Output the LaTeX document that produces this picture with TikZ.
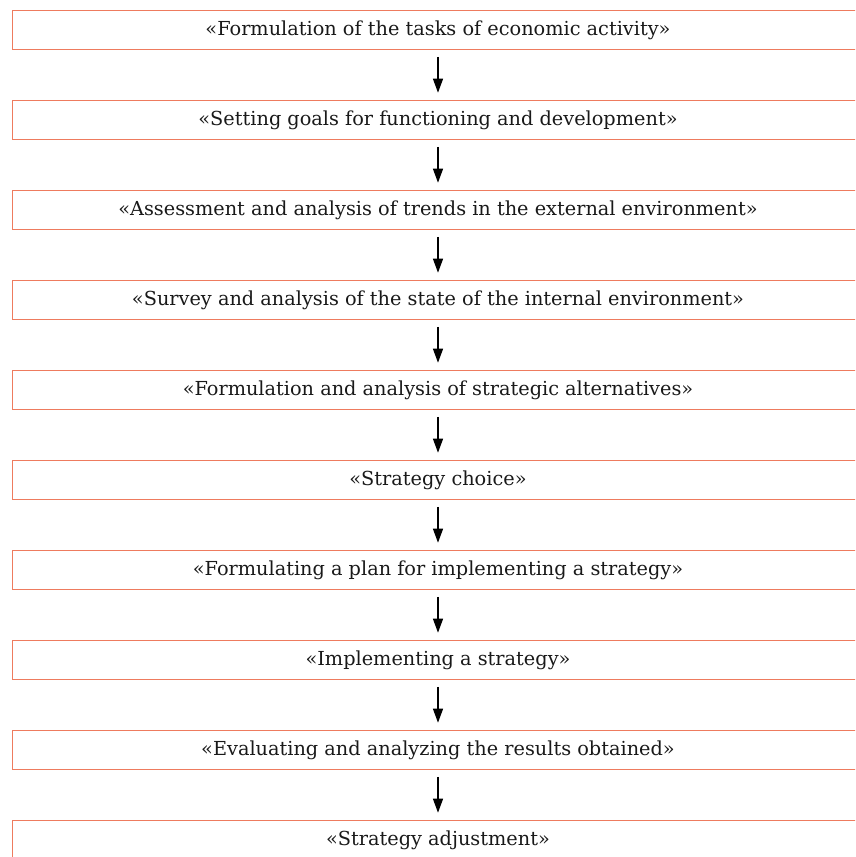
\documentclass[tikz,border=0pt]{standalone}
\usepackage{fontspec}
\setmainfont{DejaVu Serif}
\usetikzlibrary{arrows.meta}
\definecolor{boxline}{HTML}{EE7B5E}
\begin{document}
\begin{tikzpicture}[x=1pt,y=-1pt,
  stagebox/.style={draw=boxline,line width=1.6pt,rectangle,minimum width=851pt,minimum height=39pt,inner sep=0pt,font=\fontsize{19.3}{23}\selectfont,text=black!90},
  flowarrow/.style={-{Triangle[length=14pt,width=10pt]},line width=1.2pt,shorten <=6.5pt,shorten >=7pt}]
\useasboundingbox (0,0) rectangle (855,857);
\clip (0,0) rectangle (855,857);
\node[stagebox] (s1)  at (438,30)  {«Formulation of the tasks of economic activity»};
\node[stagebox] (s2)  at (438,120) {«Setting goals for functioning and development»};
\node[stagebox] (s3)  at (438,210) {«Assessment and analysis of trends in the external environment»};
\node[stagebox] (s4)  at (438,300) {«Survey and analysis of the state of the internal environment»};
\node[stagebox] (s5)  at (438,390) {«Formulation and analysis of strategic alternatives»};
\node[stagebox] (s6)  at (438,480) {«Strategy choice»};
\node[stagebox] (s7)  at (438,570) {«Formulating a plan for implementing a strategy»};
\node[stagebox] (s8)  at (438,660) {«Implementing a strategy»};
\node[stagebox] (s9)  at (438,750) {«Evaluating and analyzing the results obtained»};
\node[stagebox] (s10) at (438,840) {«Strategy adjustment»};
\foreach \a/\b in {s1/s2,s2/s3,s3/s4,s4/s5,s5/s6,s6/s7,s7/s8,s8/s9,s9/s10}
  \draw[flowarrow] (\a.south) -- (\b.north);
\end{tikzpicture}
\end{document}
